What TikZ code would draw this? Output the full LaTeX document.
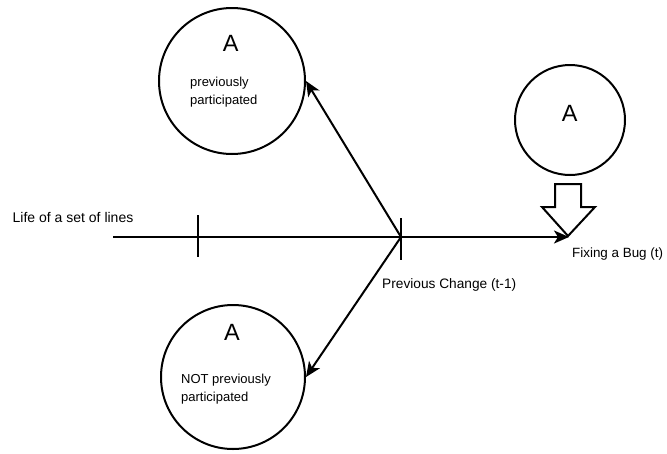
\documentclass[tikz,border=0pt]{standalone}
\usepackage{fontspec}
\setmainfont{Liberation Sans}
\usetikzlibrary{arrows.meta}
\begin{document}
\begin{tikzpicture}[x=1pt,y=-1pt,
  ln/.style={line width=2pt, line cap=butt},
  circ/.style={circle, draw, line width=2pt, inner sep=0pt},
  arr/.style={ln, -{Stealth[length=15pt,width=13pt,inset=4pt]}},
  txt/.style={anchor=base west, inner sep=0pt, font=\fontsize{13}{15}\selectfont},
  big/.style={anchor=base west, inner sep=0pt, font=\fontsize{23.5}{26}\selectfont}]
\useasboundingbox (0,0) rectangle (667,453);
% circles
\node[circ, minimum size=146pt] (c1) at (232,81) {};
\node[circ, minimum size=144pt] (c2) at (233,377) {};
\node[circ, minimum size=110pt] (c3) at (570,120) {};
% texts
\node[big] (a1) at (222.7,51.7) {A};
\node[txt] (p1) at (190,86) {previously};
\node[txt] (p2) at (190,104) {participated};
\node[big] (a2) at (224,340) {A};
\node[txt] (n1) at (181,383.3) {NOT previously};
\node[txt] (n2) at (181,401) {participated};
\node[big] (a3) at (561.7,121.7) {A};
\node[txt, font=\fontsize{14}{16}\selectfont] (life) at (12.5,222.7) {Life of a set of lines};
\node[txt, font=\fontsize{13.7}{16}\selectfont] (prev) at (382,288.5) {Previous Change (t-1)};
\node[txt, font=\fontsize{13.4}{16}\selectfont] (fix) at (572,257.5) {Fixing a Bug (t)};
% timeline
\coordinate (s) at (113,237);
\coordinate (v) at (401,237);
\coordinate (e) at (569,237);
\coordinate (t1a) at (198,215);
\coordinate (t1b) at (198,257);
\coordinate (t2a) at (401,218);
\coordinate (t2b) at (401,260);
\draw[ln] (s) -- (v);
\draw[arr] (v) -- (e);
\draw[ln] (t1a) -- (t1b);
\draw[ln] (t2a) -- (t2b);
\draw[arr] (v) -- (c1.east);
\draw[arr] (v) -- (c2.east);
% block arrow
\draw[line width=2pt, line join=miter, fill=white]
  (555,184) -- (581,184) -- (581,207) -- (595,207) -- (568,236) -- (542,207) -- (555,207) -- cycle;
\end{tikzpicture}
\end{document}
